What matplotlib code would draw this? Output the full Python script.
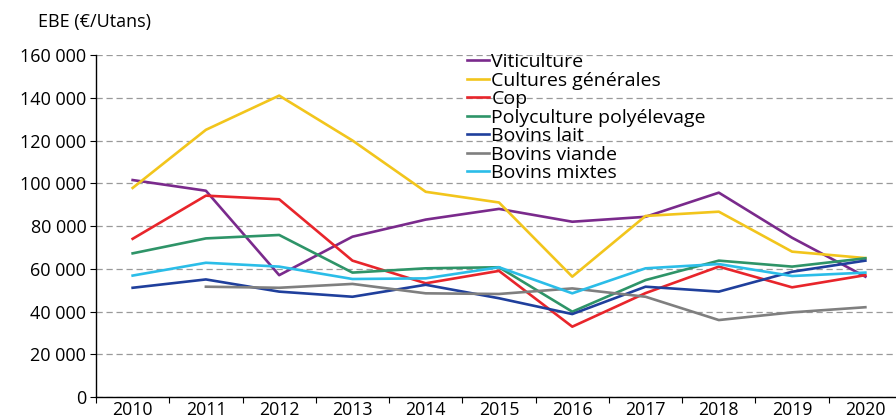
import numpy as np
import matplotlib.pyplot as plt
from matplotlib.ticker import FuncFormatter, FixedLocator

plt.rcParams['font.family'] = ['Open Sans', 'DejaVu Sans']

years = ['2010', '2011', '2012', '2013', '2014', '2015', '2016', '2017', '2018', '2019', '2020']
viticulture = [101500, 96500, 57000, 75000, 83000, 88000, 82000, 84300, 95600, 74500, 56300]
cultures = [97800, 125000, 141000, 120000, 96000, 91000, 56300, 84700, 86700, 68000, 65000]
cop = [74000, 94200, 92500, 63800, 53200, 59000, 32900, 48600, 61000, 51300, 57000]
polyculture = [67200, 74200, 75800, 58200, 60200, 60700, 39900, 54700, 63800, 61000, 64900]
bovins_lait = [51100, 55000, 49300, 46900, 52500, 46200, 38800, 51600, 49300, 58600, 63800]
bovins_viande = [np.nan, 51600, 51100, 52900, 48500, 48200, 50800, 46900, 36000, 39600, 42000]
bovins_mixtes = [56800, 62800, 61000, 55200, 55500, 60700, 48500, 60200, 62200, 56600, 58200]

series = [
    ('Viticulture', viticulture, '#7a2a8c'),
    ('Cultures générales', cultures, '#f2c51c'),
    ('Cop', cop, '#e8252b'),
    ('Polyculture polyélevage', polyculture, '#2e9468'),
    ('Bovins lait', bovins_lait, '#1f3f9c'),
    ('Bovins viande', bovins_viande, '#7f7f7f'),
    ('Bovins mixtes', bovins_mixtes, '#2bbde8'),
]

fig = plt.figure(figsize=(8.96, 4.19), dpi=100)
W, H = 896, 419
ax = fig.add_axes([96 / W, (H - 397) / H, (902 - 96) / W, (397 - 55) / H])

x = np.arange(len(years))
for name, vals, col in series:
    ax.plot(x, vals, color=col, lw=1.9, label=name)

ax.set_xlim(-0.5, len(years) - 0.5)
ax.set_ylim(0, 160000)
ax.set_yticks(np.arange(0, 160001, 20000))
ax.yaxis.set_major_formatter(FuncFormatter(lambda v, p: f'{int(v):,}'.replace(',', ' ')))
ax.set_xticks(x)
ax.set_xticklabels(years)
ax.xaxis.set_minor_locator(FixedLocator(np.arange(-0.5, len(years), 1)))
ax.tick_params(axis='x', which='major', length=0, labelsize=12.8, pad=3)
ax.tick_params(axis='x', which='minor', length=4, width=0.8, direction='out')
ax.tick_params(axis='y', length=4, width=0.8, labelsize=13, pad=3)

ax.grid(axis='y', ls=(0, (5, 3)), color='#9a9a9a', lw=0.9)
ax.set_axisbelow(True)
for s in ['top', 'right']:
    ax.spines[s].set_visible(False)
ax.spines['left'].set_linewidth(1)
ax.spines['bottom'].set_linewidth(1)

ax.legend(loc='upper left', bbox_to_anchor=((467 - 96) / (902 - 96), 1.005), frameon=False,
          fontsize=14, handlelength=1.15, handletextpad=0.1, labelspacing=0.025,
          borderaxespad=0.0, borderpad=0.0)

fig.text(38 / W, 1 - 22 / H, 'EBE (€/Utans)', fontsize=13, va='center', ha='left')

fig.savefig('out.png', dpi=100)
